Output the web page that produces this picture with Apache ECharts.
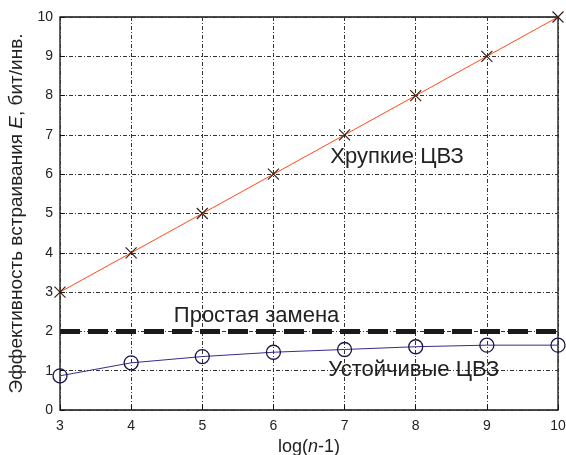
<!DOCTYPE html>
<html><head><meta charset="utf-8">
<script src="https://cdn.jsdelivr.net/npm/echarts@6/dist/echarts.min.js"></script>
<style>html,body{margin:0;padding:0;background:#fff}#c{width:566px;height:455px}</style>
</head><body><div id="c"></div>
<script>
const xValues = [3, 4, 5, 6, 7, 8, 9, 10];
const fragile = [3, 4, 5, 6, 7, 8, 9, 10];
const simple = [2, 2, 2, 2, 2, 2, 2, 2];
const robust = [0.87, 1.2, 1.36, 1.47, 1.54, 1.61, 1.65, 1.65];
const annotations = [
  {text: 'Хрупкие ЦВЗ', x: 6.8, y: 6.43},
  {text: 'Простая замена', x: 4.6, y: 2.4},
  {text: 'Устойчивые ЦВЗ', x: 6.77, y: 1.03}
];
const pair = (ys) => xValues.map((x, i) => [x, ys[i]]);
const font = 'Liberation Sans, Arial, sans-serif';
const chart = echarts.init(document.getElementById('c'));
const richFor = (size) => ({
  a: {fontFamily: font, fontSize: size, color: '#222'},
  i: {fontFamily: font, fontSize: size, fontStyle: 'italic', color: '#222'}
});
const option = {
  animation: false,
  grid: {left: 60, right: 8, top: 17, bottom: 45, containLabel: false, outerBoundsMode: 'none',
    show: true, borderColor: '#111', borderWidth: 1.3},
  xAxis: {
    type: 'value', min: 3, max: 10, interval: 1,
    axisLine: {show: false},
    axisTick: {show: true, inside: true, length: 5, lineStyle: {color: '#111'}},
    axisLabel: {fontFamily: font, fontSize: 14, color: '#222', margin: 9},
    splitLine: {show: true, lineStyle: {color: '#333', width: 1, type: [4, 2, 1, 2]}},
    name: '{a|log(}{i|n}{a|-1)}', nameLocation: 'middle', nameGap: 27,
    nameTextStyle: {rich: richFor(18)}
  },
  yAxis: {
    type: 'value', min: 0, max: 10, interval: 1,
    axisLine: {show: false},
    axisTick: {show: true, inside: true, length: 5, lineStyle: {color: '#111'}},
    axisLabel: {fontFamily: font, fontSize: 14, color: '#222', margin: 7},
    splitLine: {show: true, lineStyle: {color: '#333', width: 1, type: [4, 2, 1, 2]}},
    name: '{a|Эффективность встраивания }{i|E}{a|, бит/инв.}', nameLocation: 'middle', nameGap: 31,
    nameTextStyle: {rich: richFor(19), align: 'center'}
  },
  series: [
    {
      type: 'line', data: pair(simple), symbol: 'none',
      lineStyle: {color: '#1a1a1a', width: 5, type: [20, 8]}, z: 3
    },
    {
      type: 'line', data: pair(robust), symbol: 'circle', symbolSize: 14,
      lineStyle: {color: '#3a2a8a', width: 1},
      itemStyle: {color: 'rgba(0,0,0,0)', borderColor: '#1e1446', borderWidth: 1.3}, z: 4
    },
    {
      type: 'line', data: pair(fragile), symbol: 'path://M0,0L10,10M10,0L0,10', symbolSize: 11,
      lineStyle: {color: '#ff4a1a', width: 1},
      itemStyle: {color: 'rgba(0,0,0,0)', borderColor: '#3a2010', borderWidth: 1.2}, z: 5
    }
  ]
};
chart.setOption(option);
const graphics = annotations.map(a => {
  const p = chart.convertToPixel({gridIndex: 0}, [a.x, a.y]);
  return {type: 'text', x: p[0], y: p[1], z: 10,
    style: {text: a.text, font: '22px ' + font, fill: '#222', verticalAlign: 'middle', align: 'left'}};
});
chart.setOption({graphic: graphics});
</script>
</body></html>
